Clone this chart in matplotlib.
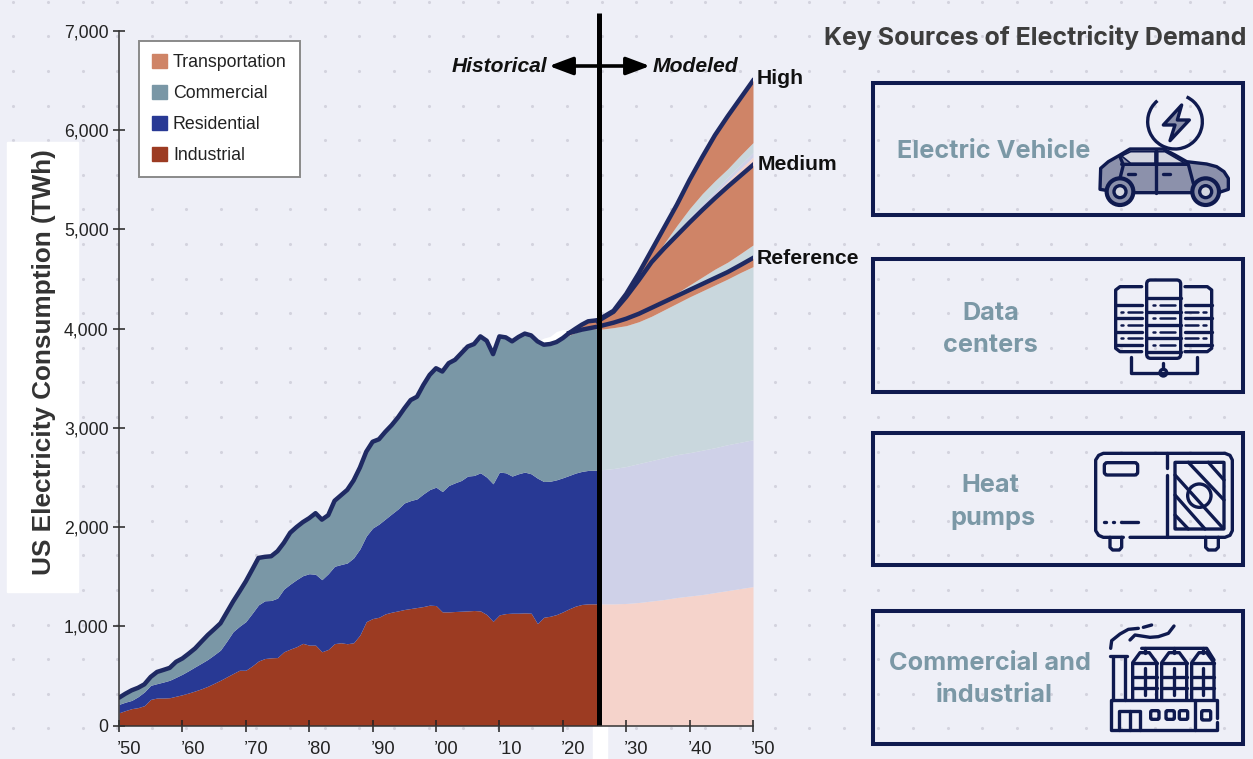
import numpy as np
import matplotlib
matplotlib.use('Agg')
import matplotlib.pyplot as plt
from matplotlib.patches import Rectangle, Circle, Arc, Polygon, FancyBboxPatch
from matplotlib.transforms import ScaledTranslation

plt.rcParams['font.family'] = ['Liberation Sans', 'DejaVu Sans']

# stacked tops (TWh), one value per year 1950-2025
hist_years = list(range(1950, 2025)) + [2025.5]
industrial = [128, 150, 170, 180, 200, 263, 277, 277, 280, 295, 310, 328, 348, 370, 395, 425, 456, 490, 524, 557,
              557, 600, 650, 675, 682, 685, 743, 770, 794, 828, 810, 810, 743, 767, 825, 834, 824, 834, 912, 1047,
              1078, 1091, 1125, 1142, 1155, 1169, 1179, 1189, 1199, 1213, 1209, 1145, 1145, 1149, 1152, 1155, 1159, 1155, 1118, 1050,
              1115, 1128, 1132, 1132, 1135, 1132, 1027, 1091, 1101, 1118, 1145, 1176, 1203, 1220, 1226, 1226]
residential = [213, 235, 253, 290, 338, 405, 422, 438, 456, 486, 517, 553, 591, 628, 666, 712, 760, 850, 946, 1000,
               1047, 1130, 1216, 1257, 1260, 1284, 1375, 1425, 1470, 1510, 1530, 1524, 1470, 1530, 1605, 1622, 1638, 1689, 1780, 1910,
               1990, 2030, 2081, 2132, 2182, 2243, 2267, 2284, 2334, 2378, 2402, 2358, 2419, 2446, 2470, 2514, 2520, 2547, 2503, 2436,
               2554, 2547, 2514, 2537, 2554, 2537, 2493, 2459, 2462, 2476, 2497, 2520, 2544, 2561, 2571, 2574]
total = [280, 320, 355, 380, 415, 490, 540, 560, 581, 642, 676, 725, 777, 845, 912, 970, 1030, 1140, 1250, 1350,
         1453, 1570, 1689, 1700, 1706, 1757, 1841, 1943, 2000, 2050, 2090, 2140, 2075, 2120, 2265, 2320, 2375, 2470, 2600, 2760,
         2860, 2885, 2960, 3027, 3105, 3196, 3280, 3314, 3432, 3534, 3601, 3568, 3652, 3686, 3753, 3820, 3845, 3922, 3878, 3743,
         3922, 3912, 3872, 3916, 3950, 3932, 3872, 3838, 3845, 3865, 3905, 3956, 3999, 4040, 4074, 4085]
commercial = total[:71] + [3935, 3960, 3980, 3995, 4000]
white_years = [2016, 2017, 2018, 2019, 2020, 2021, 2022]
white_top = [3872, 3905, 3922, 3972, 3990, 3985, 3999]
white_low = [3872, 3838, 3845, 3865, 3905, 3956, 3999]

# modeled scenarios
model_years = [2025.5, 2028, 2030, 2032, 2034, 2036, 2038, 2040, 2042, 2044, 2046, 2048, 2050]
ind_model = [1226, 1226, 1230, 1240, 1255, 1270, 1290, 1305, 1320, 1340, 1360, 1380, 1400]
res_model = [2574, 2590, 2610, 2640, 2670, 2700, 2730, 2750, 2775, 2800, 2830, 2855, 2880]
com_model = [3990, 4010, 4030, 4070, 4125, 4190, 4255, 4320, 4380, 4440, 4500, 4565, 4625]
reference = [4020, 4060, 4100, 4150, 4210, 4270, 4330, 4390, 4450, 4510, 4570, 4640, 4712]
med_com = [4020, 4060, 4100, 4150, 4210, 4270, 4360, 4440, 4520, 4600, 4670, 4755, 4843]
medium = [4075, 4170, 4320, 4490, 4670, 4810, 4940, 5070, 5195, 5315, 5430, 5540, 5650]
high_ind = [4075, 4170, 4320, 4490, 4670, 4815, 4960, 5100, 5230, 5360, 5485, 5610, 5730]
high_res = [4075, 4170, 4320, 4490, 4670, 4820, 4975, 5120, 5255, 5390, 5525, 5650, 5775]
high_com = [4075, 4170, 4320, 4490, 4670, 4860, 5040, 5210, 5360, 5490, 5610, 5745, 5875]
high = [4085, 4180, 4350, 4560, 4790, 5020, 5250, 5500, 5730, 5950, 6140, 6320, 6500]

x_ticks = [1950, 1960, 1970, 1980, 1990, 2000, 2010, 2020, 2030, 2040, 2050]
x_labels = ['\u201950', '\u201960', '\u201970', '\u201980', '\u201990', '\u201900', '\u201910', '\u201920', '\u201930', '\u201940', '\u201950']
y_ticks = [0, 1000, 2000, 3000, 4000, 5000, 6000, 7000]
legend_labels = ['Transportation', 'Commercial', 'Residential', 'Industrial']

W, H = 1253, 759
BG = '#EEEFF7'
IND = '#9C3B22'
RES = '#283994'
COM = '#7A97A6'
TRA = '#CF8467'
IND_P = '#F5D3CB'
RES_P = '#CFD1E8'
COM_P = '#C9D7DD'
LINE = '#1F2A63'
NAVY = '#0F1A4F'
ICON_D = '#8C91AB'
ICON_L = '#D4D6E0'
BOX_TXT = '#7B98A6'

fig = plt.figure(figsize=(W / 100, H / 100), dpi=100, facecolor=BG)


def pixel_axes(z):
    a = fig.add_axes([0, 0, 1, 1], zorder=z)
    a.set_xlim(0, W)
    a.set_ylim(H, 0)
    a.axis('off')
    a.patch.set_alpha(0)
    return a


bg = pixel_axes(0)
top = pixel_axes(3)

# dotted background
gx, gy = np.meshgrid(np.arange(13.3, W, 34.6), np.arange(1.7, H, 34.6))
bg.scatter(gx.ravel(), gy.ravel(), s=5, color='#D3D3DE', linewidths=0)
bg.add_patch(Rectangle((7, 142), 71, 450, color='white'))
bg.add_patch(Rectangle((593, 726), 14, 33, color='white'))

# main chart
ax = fig.add_axes([119 / W, 33.5 / H, 634 / W, 694.5 / H], zorder=1)
ax.patch.set_alpha(0)
ax.set_xlim(1950, 2050)
ax.set_ylim(0, 7000)

ax.fill_between(hist_years, 0, industrial, color=IND, lw=0)
ax.fill_between(hist_years, industrial, residential, color=RES, lw=0)
ax.fill_between(hist_years, residential, commercial, color=COM, lw=0)
ax.fill_between(hist_years, commercial, total, color=TRA, lw=0)
ax.fill_between(white_years, white_low, white_top, color='white', lw=0)

ax.fill_between(model_years, 0, ind_model, color=IND_P, lw=0)
ax.fill_between(model_years, ind_model, res_model, color=RES_P, lw=0)
ax.fill_between(model_years, res_model, com_model, color=COM_P, lw=0)
ax.fill_between(model_years, com_model, reference, color=TRA, lw=0)
ax.fill_between(model_years, reference, med_com, color=COM_P, lw=0)
ax.fill_between(model_years, med_com, medium, color=TRA, lw=0)
ax.fill_between(model_years, medium, high_ind, color=IND_P, lw=0)
ax.fill_between(model_years, high_ind, high_res, color=RES_P, lw=0)
ax.fill_between(model_years, high_res, high_com, color=COM_P, lw=0)
ax.fill_between(model_years, high_com, high, color=TRA, lw=0)

lw_line = 3.2
ax.plot(hist_years, total, color=LINE, lw=lw_line, solid_joinstyle='round', solid_capstyle='round')
ax.plot([2021, 2023] + model_years, [3956, 3990] + reference, color=LINE, lw=lw_line, solid_joinstyle='round')
ax.plot(model_years, medium, color=LINE, lw=lw_line, solid_joinstyle='round')
ax.plot(model_years, high, color=LINE, lw=lw_line, solid_joinstyle='round')

ax.spines['top'].set_visible(False)
ax.spines['right'].set_visible(False)
for side in ['left', 'bottom']:
    ax.spines[side].set_color('#333333')
    ax.spines[side].set_linewidth(1.1)
    ax.spines[side].set_zorder(5)
ax.set_xticks(x_ticks)
ax.set_xticklabels(x_labels, ha='left')
ax.set_yticks(y_ticks)
ax.set_yticklabels([f'{v:,}' for v in y_ticks])
ax.tick_params(axis='x', direction='inout', length=9, width=1.1, color='#222222', labelsize=13.2, pad=6.5, labelcolor='#222222')
ax.tick_params(axis='y', direction='inout', length=9, width=1.1, color='#222222', labelsize=12.7, pad=3, labelcolor='#222222')
shift = ScaledTranslation(-2 / 100, 0, fig.dpi_scale_trans)
for lab in ax.get_xticklabels():
    lab.set_transform(lab.get_transform() + shift)

handles = [Rectangle((0, 0), 1, 1, color=c) for c in [TRA, COM, RES, IND]]
leg = ax.legend(handles, legend_labels, loc='upper left', bbox_to_anchor=(139 / W, 1 - 41 / H),
                bbox_transform=fig.transFigure, fontsize=12.8, frameon=True, fancybox=False, framealpha=1,
                facecolor='white', edgecolor='#8A8A8A', borderpad=0.72, labelspacing=0.78,
                handlelength=0.84, handleheight=0.84, handletextpad=0.35, borderaxespad=0)
leg.get_frame().set_linewidth(1.4)
for t in leg.get_texts():
    t.set_color('#222222')

# annotations in picture pixels
top.text(44.5, 362, 'US Electricity Consumption (TWh)', rotation=90, ha='center', va='center',
         fontsize=18.8, fontweight='bold', color='#333333')
top.plot([599, 599], [13, 725], color='black', lw=3.6, solid_capstyle='butt')
top.annotate('', xy=(549, 66), xytext=(650, 66),
             arrowprops=dict(arrowstyle='<|-|>,head_length=0.72,head_width=0.27', mutation_scale=20, color='black', lw=2.6,
                             shrinkA=0, shrinkB=0))
top.text(547, 67, 'Historical', ha='right', va='center', fontsize=15.1, fontweight='bold', style='italic', color='#111111')
top.text(653, 66, 'Modeled', ha='left', va='center', fontsize=15.2, fontweight='bold', style='italic', color='#111111')
top.text(757, 78, 'High', ha='left', va='center', fontsize=15.2, fontweight='bold', color='#111111')
top.text(758, 164, 'Medium', ha='left', va='center', fontsize=15.2, fontweight='bold', color='#111111')
top.text(757, 258, 'Reference', ha='left', va='center', fontsize=15.2, fontweight='bold', color='#111111')

top.text(1246, 38, 'Key Sources of Electricity Demand', ha='right', va='center', fontsize=18,
         fontweight='bold', family='Inter', color='#3D3D3D')

boxes = [(83, 215), (259, 392), (433, 565), (611, 744)]
for y0, y1 in boxes:
    top.add_patch(Rectangle((873, y0), 370, y1 - y0, fill=False, ec=NAVY, lw=2.9))

box_texts = [('Electric Vehicle', 993.5, 151), ('Data', 990.5, 313), ('centers', 990.5, 345), ('Heat', 990.5, 486),
             ('pumps', 993, 518), ('Commercial and', 990, 663), ('industrial', 994, 695)]
for s, x, y in box_texts:
    top.text(x, y, s, ha='center', va='center', fontsize=18.2, fontweight='bold', family='Inter', color=BOX_TXT)

# icons, traced in crop coordinates (3x, with an origin)
ILW = 2.4


def pts(p, oy):
    return [(860 + x / 3, oy + y / 3) for x, y in p]


def path(p, oy, lw=ILW):
    xy = pts(p, oy)
    top.plot([a[0] for a in xy], [a[1] for a in xy], color=NAVY, lw=lw, solid_capstyle='round', solid_joinstyle='round')


def poly(p, oy, fc, lw=ILW):
    top.add_patch(Polygon(pts(p, oy), closed=True, fc=fc, ec=NAVY, lw=lw, joinstyle='round'))


def rrect(x0, y0, x1, y1, oy, r=4, fc='none', lw=ILW):
    a, b = pts([(x0, y0), (x1, y1)], oy)
    top.add_patch(FancyBboxPatch((a[0], a[1]), b[0] - a[0], b[1] - a[1], boxstyle=f'round,pad=0,rounding_size={r}',
                                 fc=fc, ec=NAVY, lw=lw))


def circ(x, y, r, oy, fc='none', lw=ILW):
    c = pts([(x, y)], oy)[0]
    top.add_patch(Circle(c, r / 3, fc=fc, ec=NAVY, lw=lw))


# car
o1 = 70
c = pts([(945, 155)], o1)[0]
top.add_patch(Arc(c, 164 / 3, 164 / 3, theta1=-65, theta2=230, ec=NAVY, lw=ILW))
poly([(965, 105), (910, 165), (945, 165), (930, 212), (988, 150), (952, 150)], o1, ICON_D)
poly([(720, 358), (722, 295), (745, 275), (775, 258), (810, 237), (910, 237), (945, 255), (980, 275), (1040, 282), (1070, 290),
      (1092, 305), (1105, 325), (1105, 358), (1075, 368), (780, 368)], o1, ICON_D)
poly([(785, 258), (812, 245), (885, 245), (885, 280), (812, 280)], o1, ICON_L, lw=1.2)
poly([(893, 245), (915, 245), (975, 280), (893, 280)], o1, ICON_L, lw=1.2)
path([(888, 240), (888, 368)], o1)
path([(785, 283), (985, 283), (1000, 340)], o1)
path([(780, 260), (790, 285), (780, 325)], o1)
path([(805, 312), (825, 312)], o1)
path([(910, 312), (930, 312)], o1)
for wx in [780, 1037]:
    circ(wx, 365, 40, o1, fc=ICON_D, lw=3)
    circ(wx, 365, 18, o1, fc=ICON_L, lw=2.4)

# servers
rrect(860, 630, 962, 865, o1, r=4)
for yy in [685, 725, 765, 805, 845]:
    path([(860, yy), (962, yy)], o1)
for yy in [705, 745, 785, 825]:
    path([(878, yy), (885, yy)], o1, lw=1.8)
    path([(900, yy), (945, yy)], o1, lw=1.8)
path([(845, 650), (780, 650), (767, 660), (767, 835), (780, 845), (845, 845)], o1)
path([(975, 650), (1042, 650), (1055, 660), (1055, 835), (1042, 845), (975, 845)], o1)
for yy in [705, 745, 785, 825]:
    path([(767, yy), (845, yy)], o1)
    path([(975, yy), (1055, yy)], o1)
for yy in [725, 765, 805]:
    path([(783, yy), (790, yy)], o1, lw=1.8)
    path([(805, yy), (845, yy)], o1, lw=1.8)
    path([(975, yy), (1015, yy)], o1, lw=1.8)
    path([(1030, yy), (1037, yy)], o1, lw=1.8)
path([(812, 860), (812, 908), (1010, 908), (1010, 860)], o1)
path([(910, 880), (910, 898)], o1)
circ(910, 908, 10, o1, fc=BG)

# heat pump
o2 = 420
path([(790, 352), (730, 352), (716, 346), (707, 332), (707, 120), (716, 106), (730, 100), (1095, 100), (1110, 106), (1117, 120),
      (1117, 332), (1110, 346), (1095, 352), (810, 352)], o2)
rrect(733, 128, 833, 165, o2, r=3)
path([(920, 100), (920, 145)], o2)
path([(920, 165), (920, 352)], o2)
path([(733, 305), (738, 305)], o2)
path([(758, 305), (763, 305)], o2)
path([(782, 305), (835, 305)], o2)
path([(750, 352), (750, 382), (758, 390), (778, 390), (785, 382), (785, 352)], o2)
path([(1037, 352), (1037, 382), (1045, 390), (1067, 390), (1075, 382), (1075, 352)], o2)
rrect(945, 127, 1092, 327, o2, r=0.5)
circ(1018, 227, 35, o2)
for d0, d1 in [((945, 165), (1085, 320)), ((985, 127), (1092, 240)), ((945, 225), (1035, 327)),
               ((1045, 127), (1092, 180)), ((945, 285), (985, 327))]:
    path([d0, d1], o2)

# factory
path([(1072, 895), (1072, 840), (752, 840), (752, 930), (1072, 930), (1072, 905)], o2)
path([(778, 930), (778, 872), (840, 872), (840, 930)], o2)
path([(810, 872), (810, 930)], o2)
for wx in [872, 918, 958]:
    rrect(wx, 872, wx + 25, 898, o2, r=1.5)
path([(1005, 840), (1005, 930)], o2)
rrect(1025, 872, 1052, 900, o2, r=1.5)
path([(758, 840), (758, 712)], o2)
path([(795, 840), (795, 712)], o2)
path([(750, 708), (800, 708)], o2)
for x0, x1 in [(818, 890), (905, 980), (995, 1062)]:
    path([(x0, 840), (x0, 728), (x0 + 22, 698), (x1 - 22, 698), (x1, 728), (x1, 840)], o2)
    path([(x0, 770), (x1, 770)], o2)
    path([(x0, 805), (x1, 805)], o2)
    path([(x0, 728), (x1, 728)], o2)
    path([((x0 + x1) / 2, 745), ((x0 + x1) / 2, 825)], o2)
    path([((x0 + x1) / 2, 685), ((x0 + x1) / 2, 698)], o2)
path([(845, 685), (1040, 685), (1062, 720)], o2)
path([(752, 685), (755, 662), (780, 642), (805, 628), (835, 625)], o2)
path([(850, 622), (875, 615)], o2)
path([(810, 660), (825, 645), (870, 652), (895, 650), (925, 640), (942, 618)], o2)

fig.savefig('out.png', dpi=100, facecolor=BG)
